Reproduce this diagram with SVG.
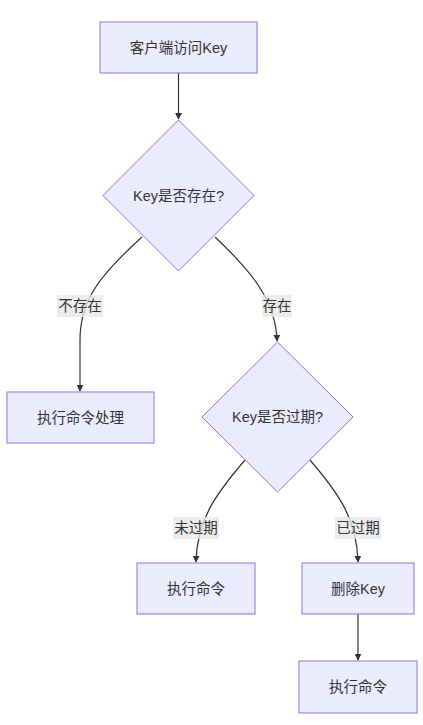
<svg xmlns="http://www.w3.org/2000/svg" width="423" height="725" viewBox="0 0 423 725">
<defs>
<style>
.node rect,.node polygon{fill:#ECECFF;stroke:#9370DB;stroke-width:1}
text{font-family:"Liberation Sans","Noto Sans CJK SC",sans-serif;font-size:14.5px;fill:#333;text-anchor:middle;dominant-baseline:central}
.edge{fill:none;stroke:#333;stroke-width:1.2}
.lbl rect{fill:#E8E8E8;opacity:0.8}
</style>
<marker id="arr" viewBox="0 0 10 10" refX="9" refY="5" markerWidth="7" markerHeight="7" orient="auto" markerUnits="userSpaceOnUse">
<path d="M0,0L10,5L0,10z" fill="#333"/>
</marker>
</defs>
<rect width="423" height="725" fill="#fff"/>
<g id="edges">
<path class="edge" d="M178.5,73L178.5,119" marker-end="url(#arr)"/>
<path class="edge" d="M142,237C100,275 80,300 80,340L80,391" marker-end="url(#arr)"/>
<path class="edge" d="M215,237C250,270 276,300 277,341" marker-end="url(#arr)"/>
<path class="edge" d="M245,460C215,495 197,520 196,562" marker-end="url(#arr)"/>
<path class="edge" d="M310,460C340,495 357,520 358,562" marker-end="url(#arr)"/>
<path class="edge" d="M358,614L358,660" marker-end="url(#arr)"/>
</g>
<g id="labels">
<g class="lbl"><rect x="57" y="295" width="46" height="22"/><text x="80" y="306">不存在</text></g>
<g class="lbl"><rect x="262" y="295" width="30" height="22"/><text x="277" y="306">存在</text></g>
<g class="lbl"><rect x="173" y="517" width="46" height="22"/><text x="196" y="528">未过期</text></g>
<g class="lbl"><rect x="335" y="517" width="46" height="22"/><text x="358" y="528">已过期</text></g>
</g>
<g id="A" class="node"><rect x="100" y="22" width="157" height="51"/><text x="178.5" y="47.5">客户端访问Key</text></g>
<g id="B" class="node"><polygon points="178.5,120 254,195.5 178.5,271 103,195.5"/><text x="178.5" y="195.5">Key是否存在?</text></g>
<g id="C" class="node"><rect x="7" y="392" width="147" height="51"/><text x="80.5" y="417.5">执行命令处理</text></g>
<g id="D" class="node"><polygon points="277.5,342 353,417 277.5,492 202,417"/><text x="277.5" y="417">Key是否过期?</text></g>
<g id="E" class="node"><rect x="137" y="563" width="118" height="51"/><text x="196" y="588.5">执行命令</text></g>
<g id="F" class="node"><rect x="302" y="563" width="112" height="51"/><text x="358" y="588.5">删除Key</text></g>
<g id="G" class="node"><rect x="299" y="661" width="118" height="52"/><text x="358" y="687">执行命令</text></g>
</svg>
